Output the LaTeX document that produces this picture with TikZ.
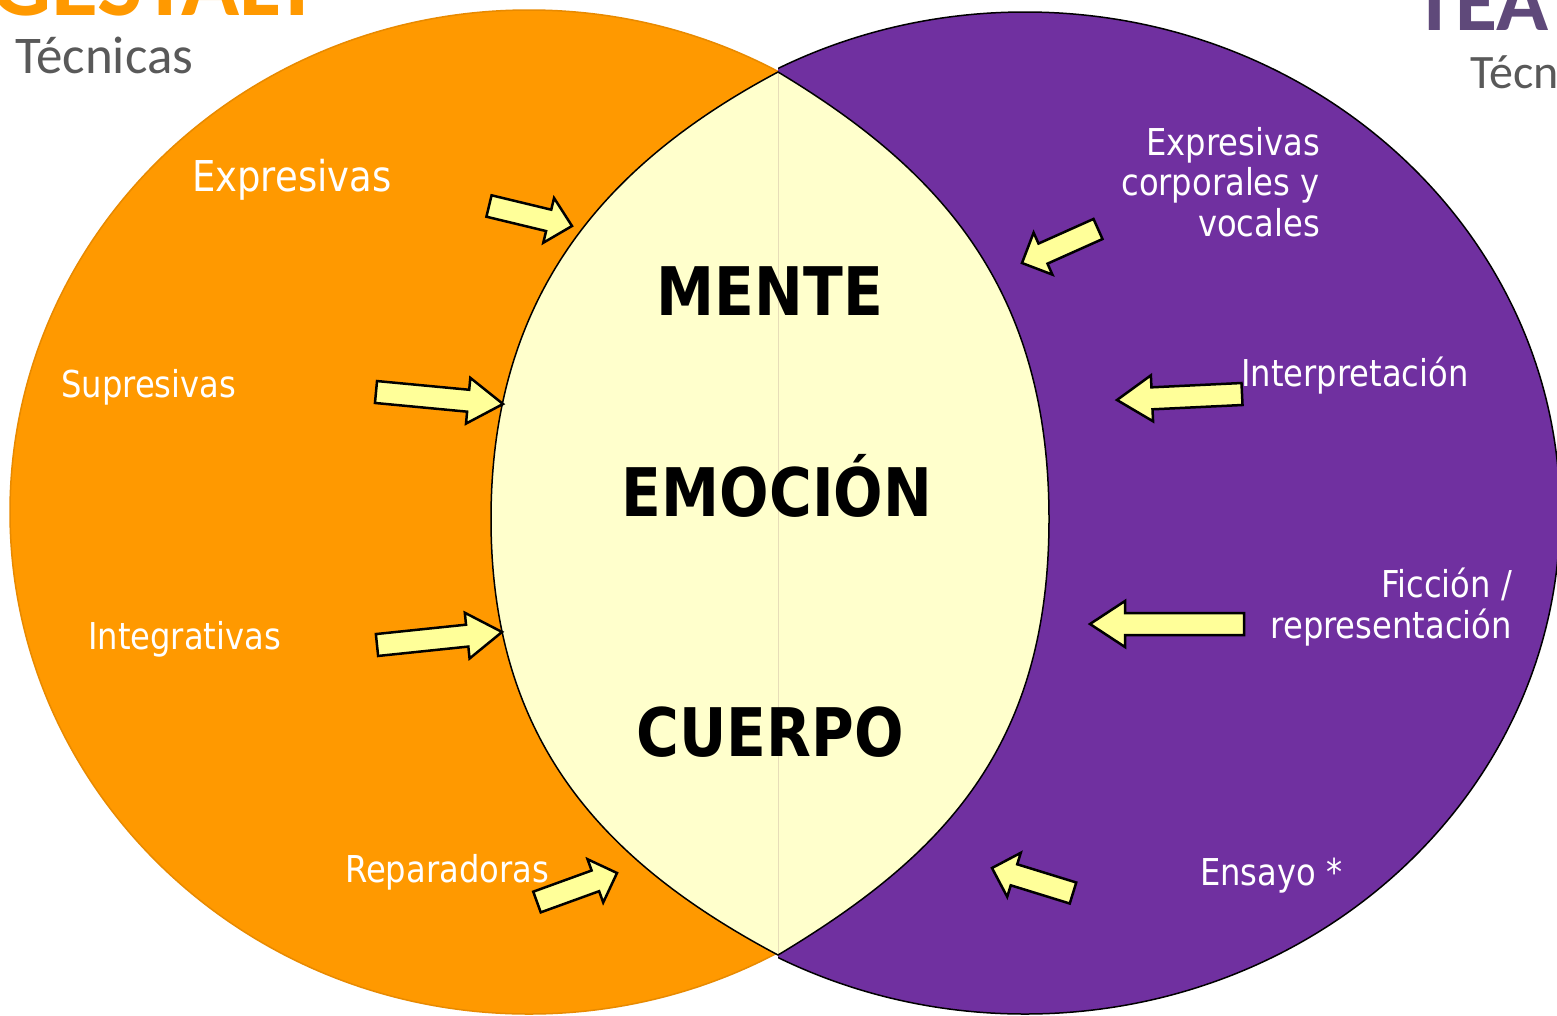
\documentclass[tikz,border=0pt]{standalone}
\usepackage{fontspec}
\usetikzlibrary{calc}
\newfontfamily\tahfont[FakeStretch=0.87]{DejaVu Sans}
\newfontfamily\calfont{Carlito}
\definecolor{orng}{HTML}{FF9900}
\definecolor{orngline}{HTML}{E88A00}
\definecolor{purp}{HTML}{7030A0}
\definecolor{lensy}{HTML}{FFFFCC}
\definecolor{arry}{HTML}{FFFF99}
\definecolor{seamc}{HTML}{E6DDB8}
\definecolor{teac}{HTML}{5F497A}
\definecolor{grayt}{HTML}{595959}
\tikzset{
  arr/.style={draw=black, fill=arry, line width=2.5pt, line join=miter},
  lbl/.style={text=white, inner sep=0pt, font=\tahfont\fontsize{37}{44}\selectfont},
  bigw/.style={text=black, inner sep=0pt, anchor=base, font=\tahfont\bfseries\fontsize{67}{78}\selectfont},
  ttl/.style={inner sep=0pt, anchor=base west},
  sub/.style={inner sep=0pt, anchor=base west, text=grayt},
}
\newcommand\blockarrow[4]{%
  \coordinate (#4b) at ($(#2)!#3!(#1)$);
  \draw[arr] ($(#1)!11pt!90:(#2)$) -- ($(#4b)!11pt!90:(#2)$) -- ($(#4b)!23pt!90:(#2)$) -- (#2)
    -- ($(#4b)!23pt!-90:(#2)$) -- ($(#4b)!11pt!-90:(#2)$) -- ($(#1)!11pt!-90:(#2)$) -- cycle;
}
\begin{document}
\begin{tikzpicture}[x=1pt,y=-1pt]
\useasboundingbox (0,0) rectangle (1557,1015);
\clip (0,0) rectangle (1557,1015);
\fill[white] (0,0) rectangle (1557,1015);
\coordinate (oc) at (529,512);
\coordinate (pc) at (1025,513);
\coordinate (lt) at (778,72);
\coordinate (lb) at (778,955);
\coordinate (ll) at (491,519);
\coordinate (lr) at (1049,519);
% orange circle
\path[fill=orng, draw=orngline, line width=1.5pt] (oc) ellipse [x radius=519pt, y radius=502pt];
% purple circle, kept to the right of the lens' left edge
\begin{scope}
  \clip (778,-10) -- (1600,-10) -- (1600,1030) -- (778,1030) -- (lb)
    .. controls (601,861) and (491,739) .. (ll)
    .. controls (491,299) and (601,166) .. (lt) -- cycle;
  \path[fill=purp, draw=black, line width=1.5pt] (pc) ellipse [x radius=535pt, y radius=501pt];
\end{scope}
% lens
\path[fill=lensy] (lt) .. controls (601,166) and (491,299) .. (ll)
  .. controls (491,739) and (601,861) .. (lb)
  .. controls (941,857) and (1049,749) .. (lr)
  .. controls (1049,289) and (941,170) .. (lt) -- cycle;
\draw[seamc, line width=1pt] (lt) -- (lb);
\draw[black, line width=1.5pt] (lt) .. controls (601,166) and (491,299) .. (ll)
  .. controls (491,739) and (601,861) .. (lb)
  .. controls (941,857) and (1049,749) .. (lr)
  .. controls (1049,289) and (941,170) .. (lt) -- cycle;
% titles
\node[ttl, text=orng, font=\calfont\bfseries\fontsize{96}{100}\selectfont] (gest) at (-10,15) {GESTALT};
\node[ttl, text=teac, font=\calfont\bfseries\fontsize{86}{95}\selectfont] (tea) at (1413,30) {TEA};
\node[sub, font=\calfont\fontsize{53}{60}\selectfont] (tecl) at (15,73) {Técnicas};
\node[sub, font=\calfont\fontsize{48}{56}\selectfont] (tecr) at (1470,88) {Técnicas};
% center words
\node[bigw] (mente) at (770,315) {MENTE};
\node[bigw] (emo) at (777,516) {EMOCIÓN};
\node[bigw] (cuerpo) at (770,756) {CUERPO};
% left labels
\node[lbl, anchor=base west, font=\tahfont\fontsize{42.5}{50}\selectfont] (l1) at (192,191) {Expresivas};
\node[lbl, anchor=base west] (l2) at (61,397) {Supresivas};
\node[lbl, anchor=base west] (l3) at (88,649) {Integrativas};
\node[lbl, anchor=base west] (l4) at (345,882) {Reparadoras};
% right labels
\node[lbl, anchor=base east] (r1a) at (1320,155) {Expresivas};
\node[lbl, anchor=base east] (r1b) at (1320,195) {corporales y};
\node[lbl, anchor=base east] (r1c) at (1320,236) {vocales};
\node[lbl, anchor=base west] (r2) at (1241,386) {Interpretación};
\node[lbl, anchor=base east] (r3a) at (1512,597) {Ficción /};
\node[lbl, anchor=base east] (r3b) at (1512,638) {representación};
\node[lbl, anchor=base west] (r4) at (1200,885) {Ensayo *};
% arrows
\coordinate (a1t) at (489,206);  \coordinate (a1h) at (572,226);
\coordinate (a2t) at (376,392);  \coordinate (a2h) at (503,404);
\coordinate (a3t) at (377,645);  \coordinate (a3h) at (502,632);
\coordinate (a4t) at (537,902);  \coordinate (a4h) at (617,873);
\coordinate (a5t) at (1098,229); \coordinate (a5h) at (1022,263);
\coordinate (a6t) at (1242,394); \coordinate (a6h) at (1117,400);
\coordinate (a7t) at (1244,624); \coordinate (a7h) at (1090,624);
\coordinate (a8t) at (1073,893); \coordinate (a8h) at (992,868);
\blockarrow{a1t}{a1h}{24pt}{a1}
\blockarrow{a2t}{a2h}{35pt}{a2}
\blockarrow{a3t}{a3h}{35pt}{a3}
\blockarrow{a4t}{a4h}{23pt}{a4}
\blockarrow{a5t}{a5h}{23pt}{a5}
\blockarrow{a6t}{a6h}{35pt}{a6}
\blockarrow{a7t}{a7h}{35pt}{a7}
\blockarrow{a8t}{a8h}{23pt}{a8}
\end{tikzpicture}
\end{document}
